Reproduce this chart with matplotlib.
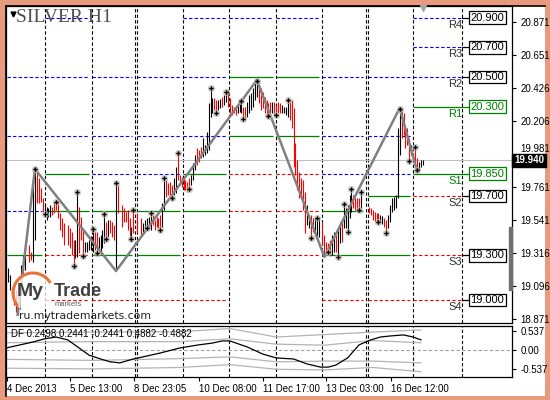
import matplotlib
matplotlib.use("Agg")
import matplotlib.pyplot as plt
from matplotlib.patches import Rectangle, Arc, Ellipse

plt.rcParams['font.family'] = ['Liberation Sans', 'DejaVu Sans']

# ---- H1 bars (hour index from left edge, high, low, 1 = up bar / 0 = down bar)
bar_h = [1, 2, 4, 5, 6, 7, 8, 9, 10, 12, 13, 14, 15, 16, 17, 18, 19, 20, 21, 22, 23, 24, 25, 26, 27, 28, 29, 30,
         32, 33, 34, 35, 36, 37, 38, 39, 40, 41, 42, 43, 44, 45, 46, 47, 48, 49, 50, 51, 52, 53, 54, 55, 56, 57, 58,
         60, 61, 62, 63, 64, 65, 66, 68, 70, 71, 72, 73, 74, 75, 76, 77, 78, 79, 80, 81, 82, 83, 84, 85, 86, 87, 88,
         89, 90, 91, 92, 93, 94, 95, 96, 97, 98, 99, 100, 101, 102, 103, 104, 105, 106, 107, 108, 109, 110, 111, 112,
         113, 114, 115, 116, 117, 118, 119, 120, 121, 122, 123, 124, 125, 126, 127, 128, 129, 130, 131, 132, 133, 134,
         135, 136, 137, 138, 139, 140, 141, 142, 143, 144, 145, 146, 147, 148, 149, 150, 151, 152, 153, 154, 155, 156,
         157, 158, 159, 160, 161, 162, 164, 165, 166, 167, 168, 169, 170, 171, 172, 173, 174, 175, 176, 177, 178, 179,
         180, 181, 182, 183, 184, 188, 189, 190, 191, 192, 193, 194, 195, 196, 197, 198, 199, 200, 201, 202, 203, 204,
         205, 206, 207, 208, 209, 210, 212, 213, 214, 215, 216]
bar_hi = [19.215, 19.167, 19.100, 19.066, 19.033, 19.100, 19.235, 19.302, 19.369, 19.369, 19.322, 19.807, 19.881,
          19.854, 19.820, 19.753, 19.686, 19.652, 19.625, 19.618, 19.638, 19.625, 19.659, 19.659, 19.652, 19.585,
          19.551, 19.517, 19.504, 19.484, 19.457, 19.403, 19.403, 19.726, 19.625, 19.558, 19.470, 19.390, 19.390,
          19.403, 19.430, 19.477, 19.457, 19.457, 19.423, 19.437, 19.470, 19.578, 19.524, 19.538, 19.538, 19.524,
          19.504, 19.787, 19.773, 19.638, 19.618, 19.591, 19.605, 19.551, 19.490, 19.605, 19.585, 19.551, 19.517,
          19.538, 19.551, 19.560, 19.585, 19.571, 19.538, 19.558, 19.551, 19.571, 19.652, 19.827, 19.807, 19.787,
          19.794, 19.773, 19.820, 19.895, 19.989, 19.841, 19.827, 19.820, 19.807, 19.794, 19.820, 19.841, 19.921,
          19.975, 20.022, 20.009, 20.029, 20.090, 20.043, 20.130, 20.326, 20.426, 20.359, 20.359, 20.346, 20.346,
          20.352, 20.366, 20.379, 20.400, 20.413, 20.359, 20.312, 20.299, 20.299, 20.326, 20.339, 20.332, 20.299,
          20.299, 20.332, 20.380, 20.393, 20.426, 20.460, 20.480, 20.460, 20.426, 20.400, 20.366, 20.346, 20.326,
          20.332, 20.332, 20.332, 20.312, 20.332, 20.326, 20.312, 20.299, 20.299, 20.346, 20.340, 20.346, 20.292,
          20.056, 19.942, 19.861, 19.820, 19.807, 19.726, 19.638, 19.571, 19.571, 19.551, 19.551, 19.558, 19.551,
          19.524, 19.437, 19.390, 19.383, 19.403, 19.437, 19.457, 19.437, 19.484, 19.524, 19.524, 19.645, 19.618,
          19.638, 19.706, 19.746, 19.706, 19.686, 19.686, 19.686, 19.726, 19.625, 19.618, 19.605, 19.591, 19.585,
          19.585, 19.571, 19.565, 19.551, 19.538, 19.571, 19.638, 19.686, 19.692, 19.706, 20.157, 20.292, 20.278,
          20.258, 20.177, 20.157, 20.090, 20.043, 20.029, 19.955, 19.928, 19.942, 19.942]
bar_lo = [19.120, 19.066, 18.965, 18.918, 18.900, 18.940, 19.033, 19.181, 19.201, 19.255, 19.268, 19.255, 19.403,
          19.652, 19.652, 19.659, 19.591, 19.578, 19.538, 19.558, 19.558, 19.571, 19.585, 19.605, 19.551, 19.470,
          19.423, 19.369, 19.369, 19.349, 19.302, 19.228, 19.282, 19.289, 19.315, 19.403, 19.295, 19.322, 19.322,
          19.336, 19.336, 19.322, 19.336, 19.315, 19.322, 19.322, 19.349, 19.383, 19.410, 19.423, 19.450, 19.423,
          19.403, 19.194, 19.585, 19.490, 19.524, 19.524, 19.470, 19.410, 19.423, 19.450, 19.450, 19.423, 19.450,
          19.470, 19.484, 19.490, 19.470, 19.504, 19.470, 19.490, 19.484, 19.470, 19.490, 19.605, 19.692, 19.706,
          19.699, 19.686, 19.706, 19.719, 19.807, 19.773, 19.760, 19.740, 19.740, 19.726, 19.746, 19.773, 19.807,
          19.874, 19.908, 19.928, 19.955, 19.962, 19.975, 19.989, 20.009, 20.231, 20.258, 20.278, 20.258, 20.278,
          20.292, 20.299, 20.312, 20.332, 20.299, 20.258, 20.245, 20.258, 20.245, 20.258, 20.265, 20.258, 20.211,
          20.224, 20.231, 20.260, 20.278, 20.299, 20.346, 20.366, 20.326, 20.278, 20.292, 20.258, 20.245, 20.238,
          20.258, 20.258, 20.245, 20.245, 20.258, 20.258, 20.258, 20.258, 20.245, 20.231, 20.210, 20.157, 19.895,
          19.841, 19.740, 19.686, 19.706, 19.605, 19.450, 19.504, 19.484, 19.416, 19.457, 19.450, 19.416, 19.423,
          19.369, 19.289, 19.302, 19.315, 19.295, 19.302, 19.322, 19.322, 19.289, 19.383, 19.390, 19.484, 19.484,
          19.457, 19.551, 19.591, 19.618, 19.605, 19.591, 19.605, 19.618, 19.585, 19.571, 19.538, 19.524, 19.524,
          19.524, 19.524, 19.510, 19.490, 19.450, 19.484, 19.524, 19.591, 19.605, 19.618, 19.686, 19.975, 20.090,
          20.110, 20.022, 20.043, 19.928, 19.975, 19.895, 19.868, 19.874, 19.895, 19.908]
bar_up = [1, 1, 0, 0, 1, 1, 1, 1, 1, 0, 0, 1, 1, 0, 0, 0, 0, 1, 1, 1, 1, 0, 0, 0, 0, 0, 0, 0,
          0, 0, 0, 0, 1, 1, 0, 0, 0, 1, 1, 1, 1, 1, 0, 0, 1, 1, 1, 1, 0, 1, 0, 0, 0, 1, 0,
          0, 0, 0, 0, 0, 1, 0, 0, 0, 1, 1, 1, 1, 1, 0, 0, 0, 0, 0, 1, 1, 0, 0, 0, 0, 1, 1,
          0, 0, 0, 0, 0, 0, 0, 1, 1, 1, 0, 0, 0, 1, 1, 1, 1, 1, 1, 0, 0, 1, 1, 0,
          1, 1, 0, 0, 0, 0, 0, 1, 1, 1, 0, 0, 1, 1, 1, 1, 1, 1, 0, 0, 0, 0,
          0, 0, 0, 1, 0, 0, 0, 0, 1, 1, 1, 1, 0, 0, 0, 0, 0, 0, 0, 0, 0, 1,
          1, 0, 0, 1, 1, 1, 0, 0, 0, 0, 0, 1, 1, 0, 1, 1, 0, 1, 1, 1, 1, 1,
          0, 0, 0, 0, 1, 0, 0, 0, 0, 0, 0, 1, 1, 0, 0, 1, 1, 1, 1, 1, 1, 1,
          0, 0, 0, 0, 0, 1, 0, 0, 1, 1, 1]

last_price = 19.940

# zigzag swing points
zz_h = [6, 15, 57, 130, 165, 204, 213]
zz_p = [18.900, 19.881, 19.194, 20.480, 19.289, 20.292, 19.868]

# fractal marks
fr_h = [15, 20, 26, 35, 37, 40, 45, 47, 51, 52, 57, 65, 66, 73, 75, 80, 82, 86, 89, 95, 106, 109, 114, 122,
        123, 130, 136, 140, 146, 158, 161, 167, 172, 175, 177, 179, 183, 184, 193, 197, 204, 209, 212, 213]
fr_p = [19.881, 19.578, 19.659, 19.228, 19.726, 19.295, 19.477, 19.315, 19.578, 19.410, 19.787, 19.410, 19.605,
        19.484, 19.585, 19.470, 19.820, 19.686, 19.989, 19.746, 20.426, 20.258, 20.400, 20.339, 20.218, 20.474,
        20.238, 20.245, 20.346, 19.416, 19.551, 19.322, 19.289, 19.645, 19.457, 19.746, 19.605, 19.726, 19.524,
        19.450, 20.285, 19.935, 20.029, 19.874]

# day separators and daily levels
separators = [20.2, 44.6, 66.8, 67.9, 91.7, 115.5, 139.9, 163.7, 186.5, 187.6, 210.9, 236.3]
day_start = [0.5, 20.2, 44.6, 67.9, 91.7, 115.5, 139.9, 163.7, 187.6, 210.9]
day_end = [18.8, 43.2, 65.4, 90.3, 114.1, 138.5, 162.3, 185.1, 209.5, 236.3]
blue_lv = [[20.5, 20.1, 19.6], [20.9, 20.5, 20.1], [20.5, 20.1, 19.85], [20.5, 20.1, 19.85],
           [20.9, 20.5, 20.1], [20.9], [20.9], [20.5, 20.1, 19.85], [20.5, 20.1, 19.85], [20.9, 20.7, 20.5]]
green_lv = [[19.3], [19.85, 19.6], [19.6, 19.3], [19.6, 19.3], [19.85, 19.6], [20.5, 20.1], [20.5, 20.1],
            [19.6, 19.3], [19.7, 19.3], [20.3, 19.85]]
red_lv = [[], [19.3, 19.0], [19.0], [19.0], [19.3, 19.0], [19.85, 19.6, 19.3], [19.85, 19.6, 19.3],
          [19.0], [19.0], [19.7, 19.3, 19.0]]
lvl_names = ['R4', 'R3', 'R2', 'R1', 'S1', 'S2', 'S3', 'S4']
lvl_vals = [20.9, 20.7, 20.5, 20.3, 19.85, 19.7, 19.3, 19.0]
lvl_text = ['20.900', '20.700', '20.500', '20.300', '19.850', '19.700', '19.300', '19.000']

price_ticks = [20.871, 20.651, 20.426, 20.206, 19.981, 19.761, 19.541, 19.316, 19.096, 18.871]

# indicator (DF) and its bands
df_h = [0, 14, 20, 26, 32, 43, 49, 54, 59, 66, 71, 80, 90, 100, 107, 112, 116, 125, 133, 140, 149, 156,
        163, 167, 171, 177, 183, 189, 194, 199, 206, 211, 215]
df_v = [0.07, 0.24, 0.33, 0.38, 0.30, -0.13, -0.24, -0.32, -0.35, -0.24, -0.18, -0.07, 0.07, 0.16, 0.21,
        0.27, 0.27, 0.10, -0.10, -0.21, -0.24, -0.38, -0.47, -0.47, -0.41, -0.21, 0.16, 0.30, 0.38, 0.41,
        0.44, 0.38, 0.30]
band_h = [0, 45, 90, 116, 140, 165, 190, 215]
band_uo = [0.50, 0.52, 0.53, 0.62, 0.38, 0.45, 0.52, 0.58]
band_ui = [0.22, 0.25, 0.25, 0.33, 0.18, 0.15, 0.28, 0.22]
band_li = [-0.25, -0.28, -0.23, -0.18, -0.32, -0.30, -0.30, -0.35]
band_lo = [-0.50, -0.52, -0.48, -0.40, -0.53, -0.55, -0.48, -0.60]

time_pos = [0.5, 33.2, 66.3, 100.0, 133.2, 165.8, 199.5]
time_lab = ['4 Dec 2013', '5 Dec 13:00', '8 Dec 23:05', '10 Dec 08:00', '11 Dec 17:00', '13 Dec 03:00',
            '16 Dec 12:00']

W, H = 550, 400


def box(x0, y0, x1, y1):
    return [x0 / W, 1 - y1 / H, (x1 - x0) / W, (y1 - y0) / H]


fig = plt.figure(figsize=(5.5, 4), dpi=100, facecolor='#E79A7E')

# white chart window
bg = fig.add_axes(box(6, 6, 545, 396))
bg.set_xticks([])
bg.set_yticks([])
for s in ['right', 'bottom']:
    bg.spines[s].set_visible(False)
for s in ['left', 'top']:
    bg.spines[s].set_linewidth(1.2)

ax = fig.add_axes(box(6, 6, 512, 323))
ind = fig.add_axes(box(6, 326, 512, 377))
XMAX = 262.2
dash = (0, (3, 2))

ax.set_xlim(0, XMAX)
ax.set_ylim(18.8441, 20.9787)
for s in ax.spines.values():
    s.set_linewidth(0.9)

for x in separators:
    ax.axvline(x, color='black', ls=dash, lw=0.8, zorder=1)
    ind.axvline(x, color='black', ls=dash, lw=0.8, zorder=1)

ax.axhline(last_price, color='#c0c0c0', lw=0.8, zorder=1)

for i in range(len(day_start)):
    for lv in blue_lv[i]:
        ax.hlines(lv, day_start[i], day_end[i], colors='#0000ff', linestyles=dash, lw=0.8, zorder=2)
    for lv in green_lv[i]:
        ax.hlines(lv, day_start[i], day_end[i], colors='#008000', lw=0.9, zorder=2)
    for lv in red_lv[i]:
        ax.hlines(lv, day_start[i], day_end[i], colors='#ff0000', linestyles=dash, lw=0.8, zorder=2)

# level boxes of the last day
for name, v, t in zip(lvl_names, lvl_vals, lvl_text):
    c = '#008000' if name in ('R1', 'S1') else 'black'
    ax.plot([day_end[-1], 240.4], [v, v], color=c, lw=0.9, zorder=3)
    ax.text(240.7, v, t, fontsize=8, color=c, va='center', ha='left', zorder=5,
            bbox=dict(boxstyle='square,pad=0.12', fc='white', ec=c, lw=0.9))
    ax.annotate(name, xy=(day_end[-1], v), xytext=(0, -1.5), textcoords='offset points',
                ha='right', va='top', fontsize=8, color=c if c != 'black' else '#303030', zorder=5)

# bars
cols = ['black' if u else '#ff0000' for u in bar_up]
ax.vlines(bar_h, bar_lo, bar_hi, colors=cols, lw=0.8, zorder=3)

ax.plot(zz_h, zz_p, color='#808080', lw=1.8, zorder=4)
ax.plot(fr_h, fr_p, ls='none', marker='o', ms=4.5, color='#f0b070', alpha=0.6, mec='#80c0f0', mew=0.6, zorder=5)
ax.plot(fr_h, fr_p, ls='none', marker='P', ms=3.2, color='black', mew=0, zorder=6)

ax.set_xticks([])
ax.yaxis.tick_right()
ax.set_yticks(price_ticks)
ax.set_yticklabels(['%.3f' % v for v in price_ticks])
ax.tick_params(axis='y', length=3, width=0.8, pad=3, labelsize=7)
# the current price box hides most of the 19.981 label, as in the terminal
ax.get_yticklabels()[4].set_va('bottom')
ax.annotate('19.940', xy=(1, last_price), xycoords=('axes fraction', 'data'), xytext=(1.5, 0),
            textcoords='offset points', ha='left', va='center', fontsize=7, color='white',
            fontweight='bold', annotation_clip=False, zorder=10,
            bbox=dict(boxstyle='square,pad=0.18', fc='black', ec='black'))

# indicator window
ind.set_xlim(0, XMAX)
ind.set_ylim(-0.749, 0.692)
for s in ind.spines.values():
    s.set_linewidth(0.9)
ind.axhline(0, color='#a0a0a0', ls=dash, lw=0.8)
for b in [band_uo, band_ui, band_li, band_lo]:
    ind.plot(band_h, b, color='#b4b4b4', lw=0.9)
ind.plot(df_h, df_v, color='black', lw=0.9)
ind.text(0.01, 0.84, 'DF 0.2498 0.2441 -0.2441 0.4882 -0.4882', transform=ind.transAxes,
         fontsize=7, va='center', ha='left')
ind.yaxis.tick_right()
ind.set_yticks([0.537, 0.0, -0.537])
ind.set_yticklabels(['0.537', '0.00', '-0.537'])
ind.tick_params(axis='y', length=3, width=0.8, pad=3, labelsize=7)
ind.set_xticks(time_pos)
ind.set_xticklabels(time_lab)
ind.tick_params(axis='x', length=3, width=0.8, pad=2, labelsize=7)
for lab in ind.get_xticklabels():
    lab.set_horizontalalignment('left')

# decorations in pixel coordinates
ov = fig.add_axes([0, 0, 1, 1])
ov.set_xlim(0, W)
ov.set_ylim(H, 0)
ov.axis('off')
ov.patch.set_visible(False)
ov.text(16, 18, 'SILVER H1', fontsize=14, family='Liberation Serif', color='#505050', va='center')
ov.plot(13, 13.5, marker='v', color='black', ms=3.5)
ov.plot(423, 8, marker='v', color='#a8a8a8', ms=5)
ov.add_patch(Rectangle((508.5, 227), 3.5, 63, color='#707070'))

ov.add_patch(Ellipse((33, 293), 40, 40, color='white', alpha=0.75, lw=0))
ov.add_patch(Arc((33, 293), 40, 40, theta1=140, theta2=330, color='#e8743b', lw=2.2))
ov.text(17, 292, 'My', fontsize=14, fontweight='bold', color='#404040', va='center')
ov.text(54, 292, 'Trade', fontsize=13, fontweight='bold', color='#404040', va='center')
ov.text(55, 304, 'markets', fontsize=5.5, color='#606060', va='center')
ov.text(19, 316, 'ru.mytrademarkets.com', fontsize=7.8, family='DejaVu Sans', color='#222222', va='center')

fig.savefig('out.png', dpi=100, facecolor=fig.get_facecolor())
